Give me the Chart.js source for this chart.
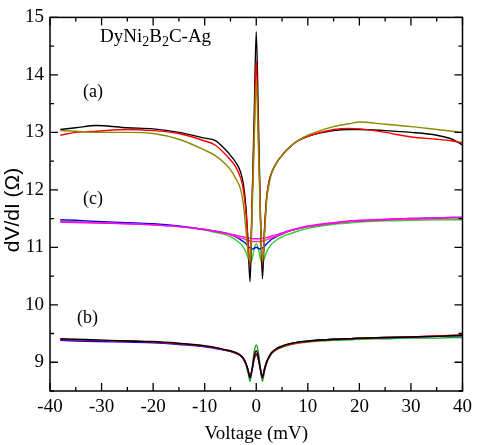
<!DOCTYPE html>
<html>
<head>
<meta charset="utf-8">
<script src="https://cdn.jsdelivr.net/npm/chart.js@4/dist/chart.umd.min.js"></script>
<style>
  html, body { margin: 0; padding: 0; background: #fff; }
  #wrap { width: 477px; height: 445px; }
</style>
</head>
<body>
<div id="wrap"><canvas id="myChart"></canvas></div>
<script>
// voltage grid (mV) shared by all curves
var voltage = [-38, -35, -31, -25, -20, -15, -10, -8, -6, -5, -4, -3, -2.5, -2, -1.6, -1.2, -0.8, -0.4, 0,
               0.4, 0.8, 1.2, 1.6, 2, 2.5, 3, 4, 5, 6, 8, 10, 15, 18, 20, 25, 30, 35, 38, 40];

// group (a)
var aBlack = [13.05, 13.08, 13.12, 13.08, 13.06, 13.0, 12.9, 12.86, 12.7, 12.6, 12.48, 12.3, 12.1, 11.7, 11.1, 10.4, 11.8, 13.3, 14.75,
              13.3, 11.6, 10.45, 11.3, 11.85, 12.15, 12.3, 12.48, 12.6, 12.7, 12.85, 12.93, 13.03, 13.05, 13.05, 13.03, 13.0, 12.95, 12.88, 12.78];
var aRed   = [12.95, 13.0, 13.02, 13.05, 13.03, 12.98, 12.85, 12.78, 12.62, 12.52, 12.4, 12.2, 12.0, 11.6, 11.1, 10.7, 11.8, 13.0, 14.25,
              13.0, 11.6, 10.7, 11.3, 11.85, 12.15, 12.3, 12.48, 12.6, 12.7, 12.85, 12.93, 13.05, 13.07, 13.06, 13.0, 12.92, 12.88, 12.85, 12.82];
var aOlive = [13.03, 13.02, 13.0, 13.0, 12.98, 12.88, 12.69, 12.6, 12.45, 12.35, 12.2, 12.0, 11.75, 11.3, 10.9, 10.75, 11.6, 12.8, 13.9,
              12.8, 11.5, 10.75, 11.2, 11.8, 12.1, 12.3, 12.48, 12.6, 12.7, 12.85, 12.95, 13.1, 13.15, 13.18, 13.14, 13.1, 13.05, 13.02, 13.0];

// group (c)
var cBlue    = [11.48, 11.47, 11.45, 11.43, 11.41, 11.37, 11.31, 11.28, 11.25, 11.22, 11.18, 11.13, 11.1, 11.06, 11.02, 10.99, 10.97, 10.98, 11.0,
                10.98, 10.97, 10.99, 11.02, 11.06, 11.1, 11.14, 11.19, 11.23, 11.27, 11.32, 11.36, 11.42, 11.45, 11.46, 11.48, 11.5, 11.51, 11.52, 11.52];
var cMagenta = [11.44, 11.43, 11.42, 11.41, 11.39, 11.36, 11.31, 11.28, 11.25, 11.23, 11.21, 11.19, 11.18, 11.17, 11.16, 11.16, 11.15, 11.15, 11.15,
                11.15, 11.15, 11.16, 11.16, 11.17, 11.18, 11.2, 11.22, 11.25, 11.28, 11.33, 11.37, 11.43, 11.46, 11.47, 11.49, 11.5, 11.51, 11.52, 11.52];
var cPink    = [11.45, 11.44, 11.43, 11.41, 11.39, 11.36, 11.31, 11.28, 11.24, 11.22, 11.19, 11.16, 11.15, 11.13, 11.12, 11.11, 11.1, 11.1, 11.1,
                11.1, 11.1, 11.11, 11.12, 11.13, 11.15, 11.17, 11.2, 11.24, 11.27, 11.32, 11.36, 11.42, 11.45, 11.46, 11.48, 11.49, 11.5, 11.51, 11.51];
var cGreen   = [11.46, 11.45, 11.44, 11.42, 11.4, 11.36, 11.3, 11.26, 11.22, 11.18, 11.13, 11.06, 11.0, 10.92, 10.82, 10.72, 10.8, 10.98, 11.06,
                10.98, 10.8, 10.72, 10.82, 10.92, 11.0, 11.06, 11.13, 11.18, 11.22, 11.28, 11.33, 11.4, 11.42, 11.44, 11.46, 11.47, 11.48, 11.48, 11.48];

// group (b)
var bBlack = [9.41, 9.4, 9.39, 9.37, 9.36, 9.33, 9.29, 9.26, 9.22, 9.2, 9.17, 9.12, 9.07, 8.98, 8.86, 8.73, 8.88, 9.1, 9.2,
              9.1, 8.88, 8.73, 8.88, 9.0, 9.1, 9.17, 9.24, 9.28, 9.31, 9.35, 9.37, 9.4, 9.41, 9.42, 9.43, 9.44, 9.45, 9.46, 9.47];
var bRed   = [9.4, 9.39, 9.38, 9.37, 9.35, 9.32, 9.28, 9.25, 9.21, 9.19, 9.16, 9.11, 9.06, 8.97, 8.86, 8.74, 8.87, 9.06, 9.15,
              9.06, 8.87, 8.74, 8.87, 8.99, 9.09, 9.16, 9.23, 9.27, 9.3, 9.34, 9.36, 9.4, 9.41, 9.42, 9.43, 9.44, 9.46, 9.47, 9.48];
var bBlue  = [9.38, 9.37, 9.36, 9.35, 9.34, 9.31, 9.27, 9.24, 9.21, 9.19, 9.16, 9.11, 9.06, 8.98, 8.88, 8.76, 8.88, 9.05, 9.13,
              9.05, 8.88, 8.76, 8.89, 9.01, 9.1, 9.17, 9.24, 9.28, 9.31, 9.35, 9.37, 9.4, 9.41, 9.42, 9.43, 9.44, 9.45, 9.46, 9.46];
var bGreen = [9.4, 9.39, 9.38, 9.37, 9.35, 9.32, 9.28, 9.25, 9.21, 9.19, 9.16, 9.11, 9.05, 8.96, 8.82, 8.67, 8.9, 9.18, 9.3,
              9.18, 8.9, 8.67, 8.84, 8.98, 9.08, 9.15, 9.22, 9.26, 9.29, 9.33, 9.35, 9.38, 9.39, 9.4, 9.41, 9.42, 9.42, 9.43, 9.43];

// tick labels
var xTicks = [-40, -30, -20, -10, 0, 10, 20, 30, 40];
var yTicks = [9, 10, 11, 12, 13, 14, 15];

function pts(ys) {
  return voltage.map(function (v, i) { return {x: v, y: ys[i]}; });
}

function ds(ys, color) {
  return {
    data: pts(ys),
    borderColor: color,
    borderWidth: 1.4,
    pointRadius: 0,
    fill: false,
    cubicInterpolationMode: "monotone"
  };
}

var serif = "'Liberation Serif', 'Times New Roman', serif";
var sans = "'Liberation Sans', Arial, sans-serif";

//draws the frame, inward ticks and the text labels
var framePlugin = {
  id: "frame",
  afterDraw: function (chart) {
    var ctx = chart.ctx;
    var a = chart.chartArea;
    var xs = chart.scales.x, ys = chart.scales.y;
    ctx.save();
    ctx.strokeStyle = "#000";
    ctx.lineWidth = 1.5;
    ctx.strokeRect(a.left, a.top, a.right - a.left, a.bottom - a.top);

    ctx.lineWidth = 1.3;
    ctx.beginPath();
    for (var v = -40; v <= 40; v += 5) {
      var px = xs.getPixelForValue(v);
      var len = (v % 10 === 0) ? 8 : 4;
      ctx.moveTo(px, a.bottom); ctx.lineTo(px, a.bottom - len);
      ctx.moveTo(px, a.top); ctx.lineTo(px, a.top + len);
    }
    for (var w = 8.5; w <= 15; w += 0.5) {
      var py = ys.getPixelForValue(w);
      var len2 = (w % 1 === 0) ? 8 : 4;
      ctx.moveTo(a.left, py); ctx.lineTo(a.left + len2, py);
      ctx.moveTo(a.right, py); ctx.lineTo(a.right - len2, py);
    }
    ctx.stroke();

    ctx.fillStyle = "#000";
    ctx.textBaseline = "alphabetic";
    ctx.textAlign = "left";
    // DyNi2B2C-Ag with subscripts
    var x0 = 100, y0 = 42;
    var parts = [["DyNi", 0], ["2", 1], ["B", 0], ["2", 1], ["C-Ag", 0]];
    parts.forEach(function (p) {
      ctx.font = (p[1] ? "14px " : "19px ") + serif;
      ctx.fillText(p[0], x0, y0 + (p[1] ? 4 : 0));
      x0 += ctx.measureText(p[0]).width;
    });
    ctx.font = "18px " + serif;
    ctx.fillText("(a)", 83, 97);
    ctx.fillText("(c)", 83, 204);
    ctx.fillText("(b)", 77, 323);

    // y axis title
    ctx.translate(13, 210);
    ctx.rotate(-Math.PI / 2);
    ctx.textAlign = "center";
    ctx.textBaseline = "middle";
    ctx.font = "21px " + sans;
    ctx.fillText("dV/dI (Ω)", 0, 0);
    ctx.restore();
  }
};

new Chart("myChart", {
  type: "line",
  data: {
    datasets: [
      ds(aOlive, "#8a8a00"),
      ds(aRed, "#ff0000"),
      ds(aBlack, "#000000"),
      ds(cMagenta, "#ff00ff"),
      ds(cPink, "#ff3a7a"),
      ds(cBlue, "#0000ff"),
      ds(cGreen, "#33cc33"),
      ds(bBlack, "#000000"),
      ds(bRed, "#ff0000"),
      ds(bBlue, "#0000ff"),
      ds(bGreen, "#1fa01f")
    ]
  },
  options: {
    responsive: true,
    maintainAspectRatio: false,
    animation: false,
    layout: {padding: {top: 11, right: 14, left: 0, bottom: 0}},
    plugins: {legend: {display: false}, tooltip: {enabled: false}},
    scales: {
      x: {
        type: "linear",
        min: -40,
        max: 40,
        afterBuildTicks: function (s) { s.ticks = xTicks.map(function (v) { return {value: v}; }); },
        afterFit: function (s) { s.height = 54; },
        grid: {display: false, drawTicks: false},
        border: {display: false},
        ticks: {color: "#000", padding: 5, maxRotation: 0, font: {family: serif, size: 19}},
        title: {display: true, text: "Voltage (mV)", color: "#000", padding: {top: 0, bottom: 0}, font: {family: serif, size: 19}}
      },
      y: {
        type: "linear",
        min: 8.5,
        max: 15,
        afterBuildTicks: function (s) { s.ticks = yTicks.map(function (v) { return {value: v}; }); },
        afterFit: function (s) { s.width = 50; },
        grid: {display: false, drawTicks: false},
        border: {display: false},
        ticks: {color: "#000", padding: 6, font: {family: serif, size: 19}}
      }
    }
  },
  plugins: [framePlugin]
});
</script>
</body>
</html>
